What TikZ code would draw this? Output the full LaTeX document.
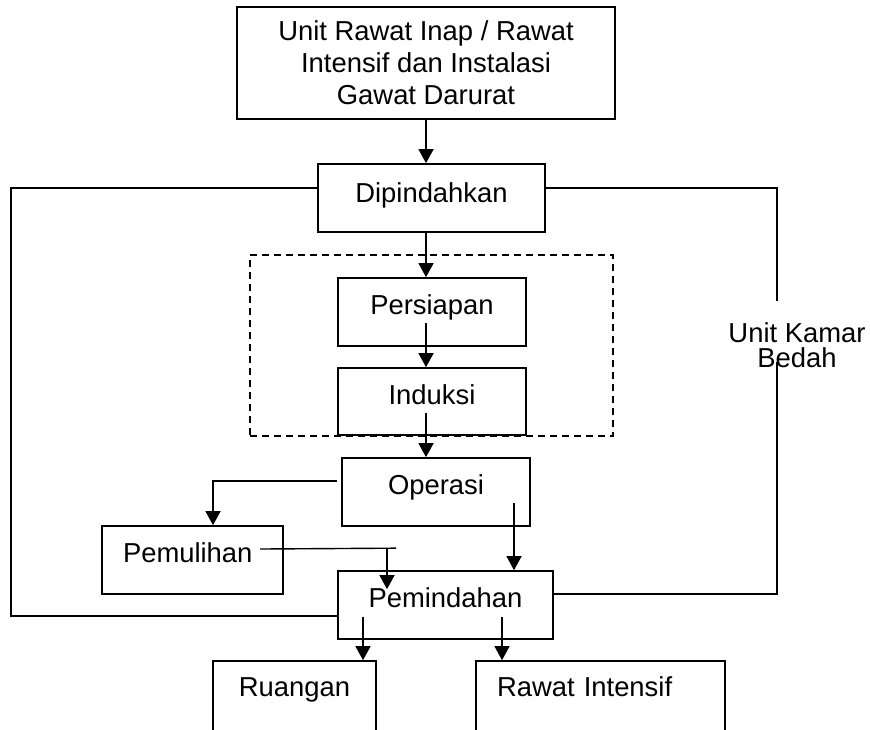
\documentclass[tikz,border=0pt]{standalone}
\usepackage{fontspec}
\setmainfont{Liberation Sans}
\usetikzlibrary{arrows.meta,calc}
\begin{document}
\begin{tikzpicture}[x=0.5pt,y=-0.5pt,
  frame/.style={draw, line width=0.85pt, inner sep=0pt,
    font=\fontsize{13.7pt}{16pt}\selectfont},
  % single-line boxes: text depth lifts the label above the box centre
  box/.style={frame, text height=9.8pt},
  group/.style={draw, dash pattern=on 3.5pt off 2.5pt, line width=0.6pt, inner sep=0pt},
  wire/.style={line width=0.7pt},
  flow/.style={wire, -{Triangle[length=7pt,width=7.5pt]}},
  note/.style={inner sep=0pt, align=center, font=\fontsize{13.7pt}{12.5pt}\selectfont}
]
\useasboundingbox (0,0) rectangle (870,729);

% dashed frame around preparation and induction
\node[group, minimum width=181.5pt, minimum height=90.5pt] (phase) at (431.5,345.5) {};

% boxes
\node[frame, align=center, minimum width=189pt, minimum height=56pt] (top) at (426,63)
  {Unit Rawat Inap / Rawat\\Intensif dan Instalasi\\Gawat Darurat};
\node[box, text depth=5pt, minimum width=113.5pt, minimum height=34pt] (dip) at (431.5,198) {Dipindahkan};
\node[box, text depth=7pt, minimum width=94pt, minimum height=34pt] (pers) at (432,312) {Persiapan};
\node[box, text depth=6.5pt, minimum width=94pt, minimum height=33.5pt] (ind) at (432,401.5) {Induksi};
\node[box, text depth=7pt, minimum width=94pt, minimum height=34pt] (op) at (436,492) {Operasi};
\node[box, text depth=7pt, minimum width=90.5pt, minimum height=34pt, text width=69.5pt, align=left] (pemu) at (192.5,560) {Pemulihan};
\node[box, text depth=7pt, minimum width=107.5pt, minimum height=34pt] (pemi) at (445.5,605) {Pemindahan};
\node[box, text depth=13.5pt, minimum width=81.5pt, minimum height=39.5pt] (ruang) at (294.5,700.5) {Ruangan};
\node[box, text depth=13.5pt, minimum width=124.5pt, minimum height=39.5pt, text width=103.5pt, align=left] (rawat) at (600.5,700.5) {Rawat Intensif};

% side label on the right-hand return line
\node[note] (ukb) at (797,345) {Unit Kamar\\Bedah};

% main vertical flow
\draw[flow] (top.south) -- (top.south |- dip.north);
\draw[flow] (dip.south -| top.south) -- (pers.north -| top.south);
\draw[flow] ($(pers.center -| top.south)+(0,11)$) -- (ind.north -| top.south);
\draw[flow] ($(ind.center -| top.south)+(0,11.5)$) -- (op.north -| top.south);

% operation to recovery and to transfer
\draw[flow] ($(op.west)+(-4,-11)$) -| ($(pemu.north)+(20.5,0)$);
\draw[flow] ($(op.center)+(78,11)$) coordinate (oa) -- (oa |- pemi.north);

% recovery to transfer
\coordinate (pjoin) at ($(pemi.north)+(-58.5,-22)$);
\draw[wire] ($(pemu.center)+(67.5,-11)$) -- ($(pjoin)+(9,0)$);
\draw[flow] (pjoin) -- ++(0,41);

% transfer to ward and intensive care
\draw[flow] ($(pemi.center)+(-82.5,12)$) coordinate (ra) -- (ra |- ruang.north);
\draw[flow] ($(pemi.center)+(56.5,12)$) coordinate (rb) -- (rb |- rawat.north);

% outer return lines
\draw[wire] ($(dip.west)+(0,-10)$) -| ($(pemi.west)+(-326,11)$) -- ($(pemi.west)+(0,11)$);
\coordinate (rtop) at ($(ukb.center)+(-20,-44)$);
\coordinate (rbot) at ($(ukb.center)+(-20,17)$);
\draw[wire] ($(dip.east)+(0,-10)$) -| (rtop);
\draw[wire] (rbot) |- ($(pemi.east)+(0,-11)$);
\end{tikzpicture}
\end{document}
